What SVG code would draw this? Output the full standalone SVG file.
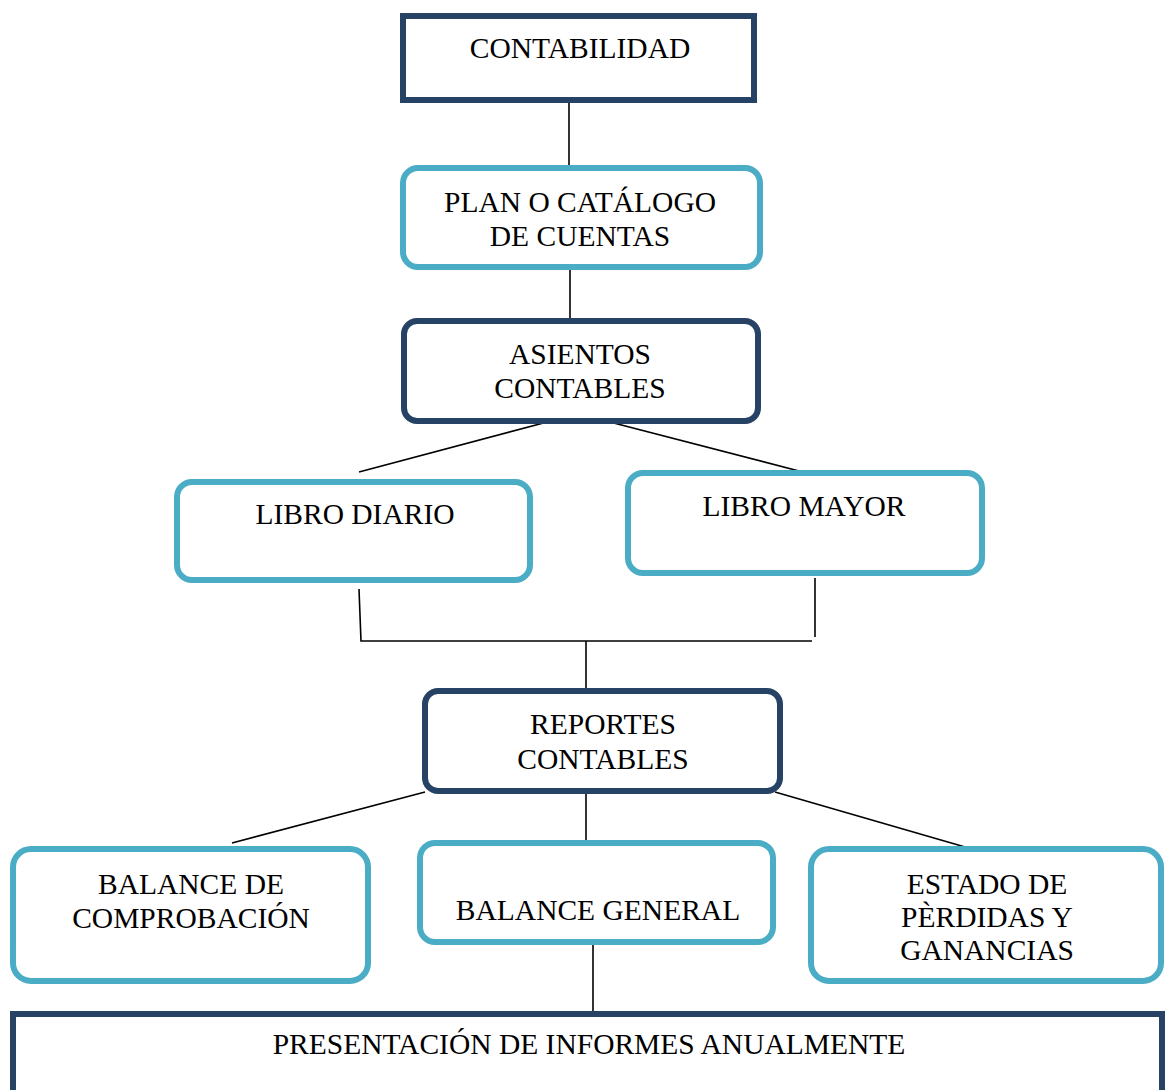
<svg xmlns="http://www.w3.org/2000/svg" width="1165" height="1090" viewBox="0 0 1165 1090">
<style>
.dark{fill:#fff;stroke:#264264;stroke-width:6}
.light{fill:#fff;stroke:#4BACC6;stroke-width:6}
.t{font-family:"Liberation Serif","Times New Roman",serif;font-size:29.5px;fill:#000;text-anchor:middle}
.c{stroke:#000;stroke-width:1.6;fill:none}
</style>
<rect width="1165" height="1090" fill="#fff"/>
<g id="connectors">
<line class="c" x1="569" y1="100" x2="569" y2="168"/>
<line class="c" x1="570" y1="268" x2="570" y2="321"/>
<line class="c" x1="551" y1="421" x2="359" y2="472"/>
<line class="c" x1="606" y1="421" x2="799" y2="471"/>
<polyline class="c" points="359,589 361,641 812,641"/>
<line class="c" x1="815" y1="578" x2="815" y2="637"/>
<line class="c" x1="586" y1="641" x2="586" y2="691"/>
<line class="c" x1="425" y1="792" x2="232" y2="843"/>
<line class="c" x1="586" y1="792" x2="586" y2="843"/>
<line class="c" x1="775" y1="792" x2="972" y2="849"/>
<line class="c" x1="593" y1="942" x2="593" y2="1018"/>
</g>
<g id="contabilidad">
<rect class="dark" x="403" y="16" width="351" height="84"/>
<text class="t" x="580" y="58">CONTABILIDAD</text>
</g>
<g id="plan">
<rect class="light" x="403" y="168" width="357" height="99" rx="15"/>
<text class="t" x="580" y="212">PLAN O CATÁLOGO</text>
<text class="t" x="580" y="246">DE CUENTAS</text>
</g>
<g id="asientos">
<rect class="dark" x="404" y="321" width="354" height="100" rx="13"/>
<text class="t" x="580" y="364">ASIENTOS</text>
<text class="t" x="580" y="398">CONTABLES</text>
</g>
<g id="libro-diario">
<rect class="light" x="177" y="482" width="353" height="98" rx="15"/>
<text class="t" x="355" y="524">LIBRO DIARIO</text>
</g>
<g id="libro-mayor">
<rect class="light" x="628" y="473" width="354" height="100" rx="15"/>
<text class="t" x="804" y="516">LIBRO MAYOR</text>
</g>
<g id="reportes">
<rect class="dark" x="425" y="691" width="355" height="100" rx="13"/>
<text class="t" x="603" y="734">REPORTES</text>
<text class="t" x="603" y="769">CONTABLES</text>
</g>
<g id="balance-comprobacion">
<rect class="light" x="13" y="849" width="355" height="132" rx="18"/>
<text class="t" x="191" y="894">BALANCE DE</text>
<text class="t" x="191" y="928">COMPROBACIÓN</text>
</g>
<g id="balance-general">
<rect class="light" x="420" y="843" width="353" height="99" rx="15"/>
<text class="t" x="598" y="920">BALANCE GENERAL</text>
</g>
<g id="estado">
<rect class="light" x="811" y="849" width="350" height="132" rx="18"/>
<text class="t" x="987" y="894">ESTADO DE</text>
<text class="t" x="987" y="927">PÈRDIDAS Y</text>
<text class="t" x="987" y="960">GANANCIAS</text>
</g>
<g id="presentacion">
<rect class="dark" x="13" y="1014" width="1149" height="110"/>
<text class="t" x="589" y="1054">PRESENTACIÓN DE INFORMES ANUALMENTE</text>
</g>
</svg>
